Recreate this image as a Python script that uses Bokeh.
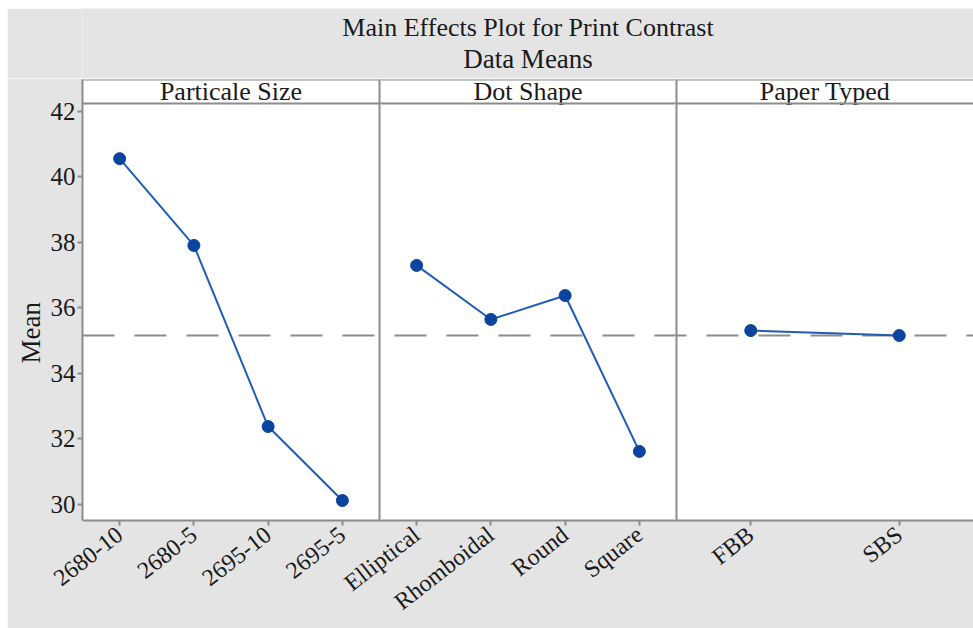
import math

from bokeh.plotting import figure
from bokeh.models import Span, FixedTicker, Spacer, Range1d, Title
from bokeh.layouts import column, row
from bokeh.core.properties import value
from bokeh.embed import file_html
from bokeh.resources import INLINE

# Factor levels and the mean print contrast at each level
particle_sizes = ["2680-10", "2680-5", "2695-10", "2695-5"]
particle_means = [40.56, 37.91, 32.38, 30.12]

dot_shapes = ["Elliptical", "Rhomboidal", "Round", "Square"]
dot_means = [37.30, 35.65, 36.38, 31.62]

paper_types = ["FBB", "SBS"]
paper_means = [35.31, 35.16]

factor_names = ["Particale Size", "Dot Shape", "Paper Typed"]
grand_mean = 35.16
y_ticks = [30, 32, 34, 36, 38, 40, 42]

main_title = "Main Effects Plot for Print Contrast"
sub_title = "Data Means"
y_title = "Mean"

# Styling
SERIF = "Liberation Serif"
GREY_BG = "#e4e4e4"
BORDER = "#8c8c8c"
TEXT = "#1a1a1a"
LINE_COLOR = "#1f5cb8"
MARK_COLOR = "#0a449e"

# Vertical extent: data area plus the strip that holds the factor names
Y_LO = 29.511
HEADER_LO = 42.244
HEADER_HI = 42.977

PANEL_W = 4.0  # x units per factor panel
FIG_W = 966
FRAME_LEFT = 75

factors = [
    (particle_sizes, particle_means),
    (dot_shapes, dot_means),
    (paper_types, paper_means),
]
n_panels = len(factors)

# ---- title block (its frame lines up with the panel frame below) ----
tf = figure(width=FIG_W, height=70, x_range=Range1d(0, 1), y_range=Range1d(0, 70),
            output_backend="svg", toolbar_location=None, title=None,
            x_axis_location=None, y_axis_location=None, min_border=0)
tf.grid.visible = False
tf.outline_line_color = None
tf.background_fill_color = GREY_BG
tf.border_fill_color = GREY_BG
tf.text(x=[0.5], y=[51], text=[main_title], text_align="center", text_baseline="middle",
        text_font=value(SERIF), text_font_size="26px", text_color=TEXT)
tf.text(x=[0.5], y=[20], text=[sub_title], text_align="center", text_baseline="middle",
        text_font=value(SERIF), text_font_size="27px", text_color=TEXT)

# ---- panels ----
p = figure(width=FIG_W, height=550,
           x_range=Range1d(0, PANEL_W * n_panels), y_range=Range1d(Y_LO, HEADER_HI),
           output_backend="svg", toolbar_location=None, title=None,
           min_border_left=FRAME_LEFT, min_border_right=0, min_border_top=1,
           min_border_bottom=108)
p.grid.visible = False
p.outline_line_color = None
p.background_fill_color = "white"
p.border_fill_color = GREY_BG

# grand-mean reference line
p.add_layout(Span(location=grand_mean, dimension="width", line_color=BORDER,
                  line_width=2, line_dash="32 20", level="underlay"))

tick_pos = []
tick_labels = {}
for k, (levels, means) in enumerate(factors):
    n = len(levels)
    xs = [k * PANEL_W + (i + 0.5) * PANEL_W / n for i in range(n)]
    for x, lab in zip(xs, levels):
        tick_pos.append(x)
        tick_labels[x] = lab
    p.line(xs, means, line_color=LINE_COLOR, line_width=2)
    p.scatter(xs, means, marker="circle", size=12, fill_color=MARK_COLOR,
              line_color=MARK_COLOR)

# panel borders and header strip
for k in range(1, n_panels):
    p.add_layout(Span(location=k * PANEL_W, dimension="height", line_color=BORDER, line_width=2))
p.add_layout(Span(location=HEADER_LO, dimension="width", line_color=BORDER, line_width=2))
p.add_layout(Span(location=HEADER_HI, dimension="width", line_color=BORDER, line_width=2))

p.text(x=[k * PANEL_W + PANEL_W / 2 for k in range(n_panels)],
       y=[(HEADER_LO + HEADER_HI) / 2] * n_panels, text=factor_names,
       text_align="center", text_baseline="middle", text_font=value(SERIF),
       text_font_size="26px", text_color=TEXT)

# axes
p.xaxis.ticker = FixedTicker(ticks=tick_pos)
p.xaxis.major_label_overrides = tick_labels
p.xaxis.major_label_orientation = math.radians(38)
p.xaxis.major_label_text_font_size = "24px"
p.xaxis.major_label_standoff = 6

p.yaxis.ticker = FixedTicker(ticks=y_ticks)
p.yaxis.major_label_text_font_size = "25px"
p.yaxis.major_label_standoff = 2

for ax in (p.xaxis[0], p.yaxis[0]):
    ax.axis_line_color = BORDER
    ax.axis_line_width = 2
    ax.major_tick_line_color = BORDER
    ax.major_tick_line_width = 2
    ax.major_tick_out = 5
    ax.major_tick_in = 0
    ax.minor_tick_line_color = None
    ax.major_label_text_font = SERIF
    ax.major_label_text_color = TEXT

# y-axis title in the left margin, starting 157 px above the frame bottom
y_label = Title(text=y_title, align="left", offset=157, text_font=SERIF,
                text_font_size="27px", text_font_style="normal", text_color=TEXT)
if "standoff" in Title.properties():
    y_label.standoff = 3
p.add_layout(y_label, "left")

layout = column(
    Spacer(width=973, height=8),
    row(Spacer(width=7, height=620), column(tf, p, spacing=0), spacing=0),
    spacing=0,
)

open("out.html", "w").write(file_html(layout, INLINE))
